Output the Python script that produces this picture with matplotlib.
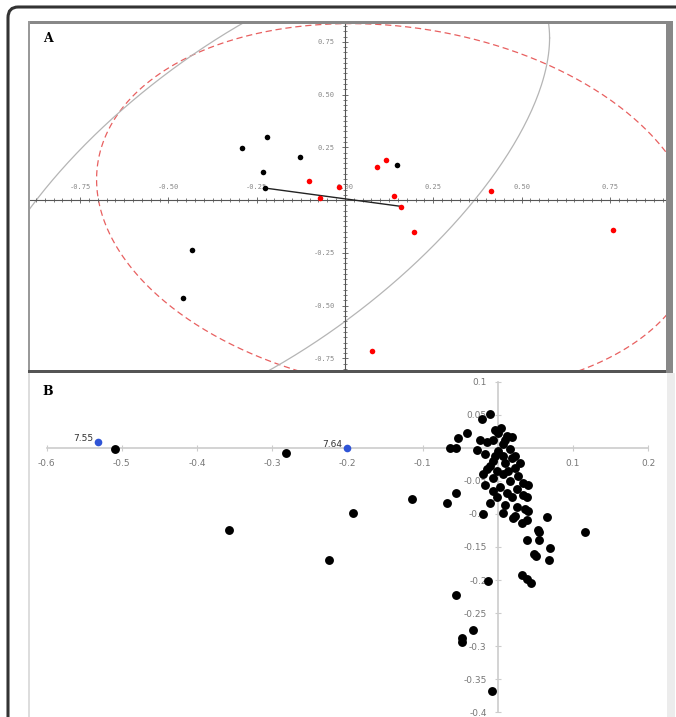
import numpy as np
import matplotlib.pyplot as plt
from matplotlib.patches import Rectangle, FancyBboxPatch
from matplotlib.ticker import MultipleLocator

plt.rcParams['axes.unicode_minus'] = False

# ---- panel A data
black_x = [-0.221, -0.292, -0.127, -0.232, -0.227, 0.147, -0.433, -0.459]
black_y = [0.299, 0.246, 0.204, 0.133, 0.057, 0.166, -0.237, -0.464]
red_x = [-0.102, -0.017, 0.091, 0.116, 0.139, 0.414, -0.071, 0.159, 0.195, 0.759, 0.076]
red_y = [0.090, 0.062, 0.156, 0.190, 0.019, 0.043, 0.009, -0.033, -0.152, -0.142, -0.716]
link_x = [-0.227, 0.159]
link_y = [0.057, -0.030]
a_ticks = [-0.75, -0.5, -0.25, 0.0, 0.25, 0.5, 0.75]

# ellipses of panel A: centre and covariance-like matrix (xx, xy, yy)
red_ell_c = (0.148, -0.0385)
red_ell_s = (0.725, -0.116, 0.765)
grey_ell_c = (-0.2415, 0.0256)
grey_ell_s = (0.674, 0.6096, 1.2865)

# ---- panel B data
bx = [-0.509, -0.281, -0.358, -0.225, -0.193, -0.114, -0.068, -0.056, -0.020, 0.116,
      0.065, 0.039, 0.055, 0.069, 0.048, 0.051, 0.068, 0.032, 0.039, 0.044,
      -0.013, -0.055, -0.033, -0.047, -0.048, -0.008, 0.055, 0.053, -0.011, 0.025,
      0.040, 0.020, 0.032, 0.039,
      -0.011, -0.021, -0.041, -0.053, -0.064, -0.055,
      0.000, 0.012, 0.019, -0.007, -0.015, 0.007, 0.016, -0.027, 0.000, -0.017,
      0.007, 0.019, -0.007, 0.009, 0.023, -0.015, -0.001, -0.020, 0.007, 0.027,
      -0.007, 0.016, 0.033, 0.040, 0.003, 0.025, 0.012, 0.033, -0.001, 0.019,
      0.039, 0.023, 0.007, 0.004, -0.004,
      0.009, -0.004, -0.011, 0.013, -0.017, -0.007, 0.029, 0.023, -0.024, 0.036, 0.009]
by = [-0.002, -0.008, -0.124, -0.169, -0.098, -0.077, -0.083, -0.069, -0.100, -0.128,
      -0.104, -0.140, -0.139, -0.152, -0.160, -0.164, -0.170, -0.193, -0.199, -0.205,
      -0.202, -0.222, -0.275, -0.287, -0.293, -0.367, -0.128, -0.124, -0.084, -0.090,
      -0.095, -0.106, -0.113, -0.109,
      0.051, 0.044, 0.023, 0.015, 0.000, 0.000,
      0.023, 0.018, 0.017, 0.011, 0.008, 0.006, -0.002, -0.003, -0.005, -0.009,
      -0.012, -0.015, -0.020, -0.023, -0.030, -0.032, -0.035, -0.039, -0.039, -0.042,
      -0.045, -0.050, -0.053, -0.057, -0.060, -0.062, -0.068, -0.072, -0.075, -0.075,
      -0.075, -0.103, -0.098, 0.030, 0.027,
      0.011, -0.012, -0.027, -0.035, -0.057, -0.065, -0.023, -0.012, 0.011, -0.092, -0.087]
blue_x = [-0.532, -0.201]
blue_y = [0.009, 0.0]
blue_lab = ['7.55', '7.64']
bx_ticks = [-0.6, -0.5, -0.4, -0.3, -0.2, -0.1, 0.1, 0.2]
by_ticks = [0.1, 0.05, -0.05, -0.1, -0.15, -0.2, -0.25, -0.3, -0.35, -0.4]

W, H = 676, 717
fig = plt.figure(figsize=(W / 100, H / 100), dpi=100)


def fbox(x0, y0, x1, y1):
    return [x0 / W, 1 - y1 / H, (x1 - x0) / W, (y1 - y0) / H]


def prect(x0, y0, x1, y1, color):
    fig.add_artist(Rectangle((x0 / W, 1 - y1 / H), (x1 - x0) / W, (y1 - y0) / H,
                             transform=fig.transFigure, color=color, lw=0, zorder=5))


def ellipse_pts(c, s, n=500):
    t = np.linspace(0, 2 * np.pi, n)
    L = np.linalg.cholesky(np.array([[s[0], s[1]], [s[1], s[2]]]))
    return np.array(c)[:, None] + L @ np.vstack([np.cos(t), np.sin(t)])


# ---------------- panel A
ax = fig.add_axes(fbox(30, 23, 667, 371))
ax.set_xlim(-0.892, 0.912)
ax.set_ylim(-0.810, 0.839)
for s in ['right', 'bottom']:
    ax.spines[s].set_visible(False)
for s in ['left', 'top']:
    ax.spines[s].set_position(('data', 0))
    ax.spines[s].set_color('#555555')
    ax.spines[s].set_linewidth(0.8)
ax.xaxis.set_ticks_position('top')
ax.set_xticks(a_ticks)
ax.set_xticklabels(['%.2f' % v for v in a_ticks])
yt = [v for v in a_ticks if v != 0]
ax.set_yticks(yt)
ax.set_yticklabels(['%.2f' % v for v in yt])
ax.xaxis.set_minor_locator(MultipleLocator(0.025))
ax.yaxis.set_minor_locator(MultipleLocator(0.025))
ax.tick_params(which='major', direction='inout', length=5, width=0.6, color='#555555',
               labelsize=5, labelcolor='#888888', pad=5)
ax.tick_params(which='minor', direction='inout', length=3, width=0.6, color='#666666')
for lab in ax.get_xticklabels() + ax.get_yticklabels():
    lab.set_family('DejaVu Sans Mono')

pts = ellipse_pts(red_ell_c, red_ell_s)
ax.plot(pts[0], pts[1], color='#e86060', lw=0.9, ls=(0, (5, 3)), zorder=1)
pts = ellipse_pts(grey_ell_c, grey_ell_s)
ax.plot(pts[0], pts[1], color='#b5b5b5', lw=0.9, zorder=1)

ax.plot(link_x, link_y, color='#222222', lw=1.0, zorder=3)
ax.plot(black_x, black_y, 'o', color='black', ms=4.0, mew=0, zorder=4)
ax.plot(red_x, red_y, 'o', color='#ff0000', ms=4.0, mew=0, zorder=4)
ax.text(0.02, 0.975, 'A', transform=ax.transAxes, fontsize=9, fontweight='bold',
        family='DejaVu Serif', va='top', ha='left')

# ---------------- panel B
bxa = fig.add_axes(fbox(30, 373, 667, 717))
bxa.set_xlim(-0.622, 0.225)
bxa.set_ylim(-0.407, 0.113)
for s in ['top', 'right']:
    bxa.spines[s].set_visible(False)
for s in ['left', 'bottom']:
    bxa.spines[s].set_position(('data', 0))
    bxa.spines[s].set_color('#cccccc')
    bxa.spines[s].set_linewidth(1.2)
bxa.spines['bottom'].set_bounds(-0.6, 0.2)
bxa.spines['left'].set_bounds(-0.4, 0.1)
bxa.set_xticks(bx_ticks)
bxa.set_xticklabels(['%g' % v for v in bx_ticks])
bxa.set_yticks(by_ticks)
bxa.set_yticklabels(['%g' % v for v in by_ticks])
bxa.tick_params(direction='inout', length=4, width=0.8, color='#cccccc',
                labelsize=6.5, labelcolor='#777777', pad=6)
bxa.plot(bx, by, 'o', color='black', ms=6.4, mew=0, zorder=4)
bxa.plot(blue_x, blue_y, 'o', color='#2f54d6', ms=5.5, mew=0, zorder=4)
for x, y, s in zip(blue_x, blue_y, blue_lab):
    bxa.annotate(s, (x, y), xytext=(-3, -1), textcoords='offset points', ha='right',
                 va='bottom', fontsize=6.5, color='#333333')
bxa.text(0.02, 0.965, 'B', transform=bxa.transAxes, fontsize=9, fontweight='bold',
         family='DejaVu Serif', va='top', ha='left')

# frames
prect(28, 21, 670, 24, '#888888')
prect(28, 21, 30, 373, '#999999')
prect(28, 370, 670, 373, '#555555')
prect(666, 21, 673, 373, '#888888')
prect(28, 373, 30, 717, '#dddddd')
prect(667, 373, 675, 717, '#ececec')
fig.add_artist(FancyBboxPatch((8 / W, -0.05), (W + 10) / W, 1.05 - 7 / H,
                              boxstyle='round,pad=0,rounding_size=0.015',
                              transform=fig.transFigure, fill=False, ec='#333333', lw=2.2,
                              zorder=6))

fig.savefig('out.png', dpi=100, facecolor='white')
